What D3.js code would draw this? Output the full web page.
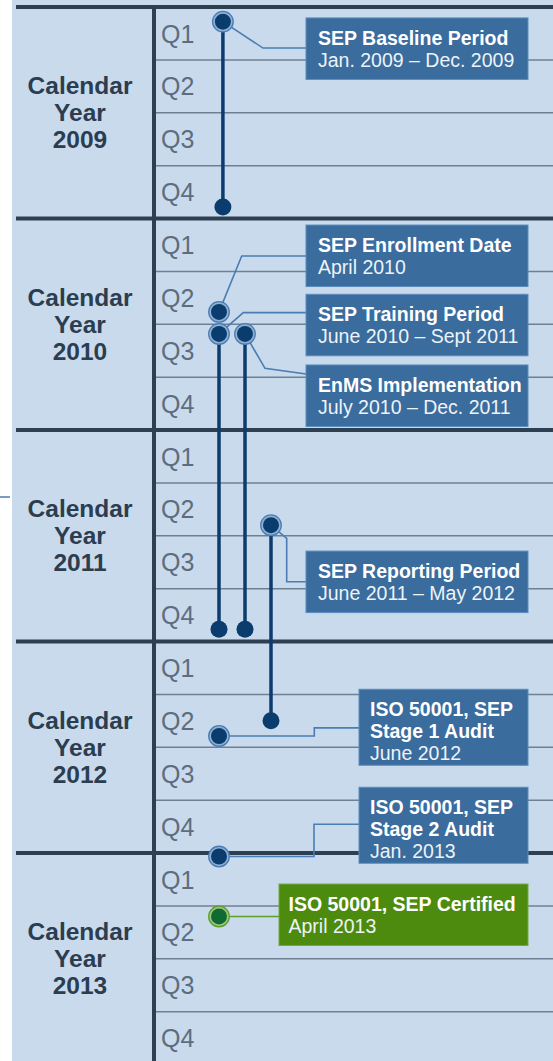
<!DOCTYPE html>
<html>
<head>
<meta charset="utf-8">
<script src="https://cdn.jsdelivr.net/npm/d3@7"></script>
<style>
  html, body { margin: 0; padding: 0; background: #fff; }
  svg { display: block; font-family: "Liberation Sans", Arial, sans-serif; }
</style>
</head>
<body>
<svg id="chart" width="553" height="1061"></svg>
<script>
'use strict';
// data, months counted from Jan. 2009
var years = [2009, 2010, 2011, 2012, 2013];
var quarters = ['Q1', 'Q2', 'Q3', 'Q4'];

var eventTitles = [
  ['SEP Baseline Period'],
  ['SEP Enrollment Date'],
  ['SEP Training Period'],
  ['EnMS Implementation'],
  ['SEP Reporting Period'],
  ['ISO 50001, SEP', 'Stage 1 Audit'],
  ['ISO 50001, SEP', 'Stage 2 Audit'],
  ['ISO 50001, SEP Certified']
];
var eventDates = [
  'Jan. 2009 \u2013 Dec. 2009',
  'April 2010',
  'June 2010 \u2013 Sept 2011',
  'July 2010 \u2013 Dec. 2011',
  'June 2011 \u2013 May 2012',
  'June 2012',
  'Jan. 2013',
  'April 2013'
];
var eventStart = [0.83, 17.3, 18.55, 18.55, 29.4, 41.36, 48.2, 51.6];
var eventEnd = [11.35, null, 35.3, 35.3, 40.5, null, null, null];
var eventLane = [0.15, 0, 0, 1, 2, 0, 0, 0];

// callout layout (box top in months, box left in px, leader points [x, month])
var boxTop = [0.62, 12.37, 16.3, 20.31, 30.87, 38.71, 44.27, 49.76];
var boxLeft = [306, 306, 306, 306, 306, 359, 359, 279];
var leaders = [
  [[263, 2.33], [306, 2.33]],
  [[241.7, 14.13], [306, 14.13]],
  [[243.3, 17.34], [306, 17.34]],
  [[265, 20.5], [306, 20.82]],
  [[286.7, 30.15], [286.7, 32.61], [306, 32.61]],
  [[314.3, 41.36], [314.3, 40.9], [359, 40.9]],
  [[314, 48.2], [314, 46.37], [359, 46.37]],
  [[279, 51.6]]
];

var W = 553, H = 1061;
var svg = d3.select('#chart');
var y = d3.scaleLinear().domain([0, 60]).range([7, 1064.5]);
var x = d3.scaleLinear().domain([0, 1]).range([219, 245]);

var navy = '#0b3c6e', ring = '#4a7db4';

svg.append('rect').attr('x', 12).attr('y', 0).attr('width', W - 12).attr('height', H).style('fill', '#c9daec');
// stray tick at left
svg.append('line').attr('x1', 0).attr('x2', 10).attr('y1', 497).attr('y2', 497).style('stroke', ring).style('stroke-width', 1.5);

var qMonths = [];
years.forEach(function (yr, i) { [3, 6, 9].forEach(function (q) { qMonths.push(i * 12 + q); }); });
svg.selectAll('.qline').data(qMonths).enter().append('line')
  .attr('x1', 156).attr('x2', W).attr('y1', function (d) { return y(d); }).attr('y2', function (d) { return y(d); })
  .style('stroke', '#6e8092').style('stroke-width', 1.5);

svg.selectAll('.yline').data(d3.range(years.length)).enter().append('line')
  .attr('x1', 16).attr('x2', W).attr('y1', function (d) { return y(d * 12); }).attr('y2', function (d) { return y(d * 12); })
  .style('stroke', '#2e3f52').style('stroke-width', 4);
svg.append('line').attr('x1', 154).attr('x2', 154).attr('y1', y(0)).attr('y2', H)
  .style('stroke', '#2e3f52').style('stroke-width', 4);

// year labels
years.forEach(function (yr, i) {
  var t = svg.append('text').attr('x', 80).attr('text-anchor', 'middle')
    .style('font-weight', 'bold').style('font-size', '24.5px').style('fill', '#2c3d50');
  ['Calendar', 'Year', String(yr)].forEach(function (s, k) {
    t.append('tspan').attr('x', 80).attr('y', y(i * 12) + 87 + k * 27).text(s);
  });
  quarters.forEach(function (q, k) {
    svg.append('text').attr('x', 161).attr('y', y(i * 12 + k * 3) + 35.5)
      .style('font-size', '25px').style('fill', '#5d6d7e').text(q);
  });
});

// callouts
eventTitles.forEach(function (title, i) {
  var green = i === 7;
  var lines = title.length + 1;
  var bh = lines === 2 ? 61.5 : 76;
  var bx = boxLeft[i], by = y(boxTop[i]);
  var pts = [[x(eventLane[i]), y(eventStart[i])]].concat(leaders[i].map(function (p) { return [p[0], y(p[1])]; }));
  svg.append('path').attr('d', d3.line()(pts)).style('fill', 'none')
    .style('stroke', green ? '#5e9e2a' : ring).style('stroke-width', 1.6);
  svg.append('rect').attr('x', bx).attr('y', by).attr('width', 528 - bx).attr('height', bh)
    .style('fill', green ? '#4c8b0e' : '#3a6c9e').style('stroke', green ? '#74a845' : '#5a8dbf').style('stroke-width', 1);
  var t = svg.append('text').style('font-size', '19.5px').style('fill', '#fff');
  var tx = bx + (green ? 9.5 : (bx === 359 ? 11 : 12));
  title.forEach(function (s, k) {
    t.append('tspan').attr('x', tx).attr('y', by + 27 + k * 22).style('font-weight', 'bold').text(s);
  });
  t.append('tspan').attr('x', tx).attr('y', by + 27 + title.length * 22).style('fill', '#eef3f8').text(eventDates[i]);
});

// timelines
eventStart.forEach(function (s, i) {
  var cx = x(eventLane[i]);
  if (eventEnd[i] !== null) {
    svg.append('line').attr('x1', cx).attr('x2', cx).attr('y1', y(s)).attr('y2', y(eventEnd[i]))
      .style('stroke', navy).style('stroke-width', 3.5);
    svg.append('circle').attr('cx', cx).attr('cy', y(eventEnd[i])).attr('r', 8.5).style('fill', navy);
  }
});
eventStart.forEach(function (s, i) {
  var cx = x(eventLane[i]), green = i === 7;
  svg.append('circle').attr('cx', cx).attr('cy', y(s)).attr('r', 10.3)
    .style('fill', green ? '#9fc77f' : '#8fb1d4').style('stroke', green ? '#5e9e2a' : ring).style('stroke-width', 1.3);
  svg.append('circle').attr('cx', cx).attr('cy', y(s)).attr('r', 8).style('fill', green ? '#0f6b32' : navy);
});
</script>
</body>
</html>
